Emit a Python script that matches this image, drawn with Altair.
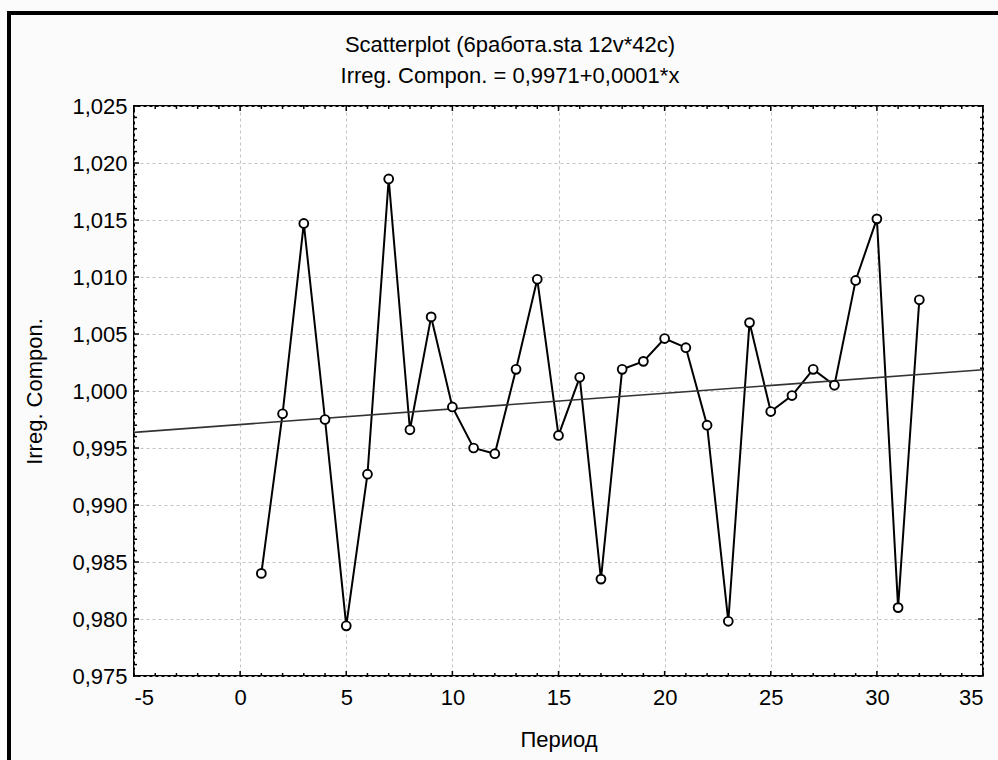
import altair as alt
import numpy as np
import pandas as pd

# Irregular component by period
period = list(range(1, 33))
irreg = [0.9840, 0.9980, 1.0147, 0.9975, 0.9794, 0.9927, 1.0186, 0.9966, 1.0065, 0.9986,
         0.9950, 0.9945, 1.0019, 1.0098, 0.9961, 1.0012, 0.9835, 1.0019, 1.0026, 1.0046,
         1.0038, 0.9970, 0.9798, 1.0060, 0.9982, 0.9996, 1.0019, 1.0005, 1.0097, 1.0151,
         0.9810, 1.0080]

x_major = [-5, 0, 5, 10, 15, 20, 25, 30, 35]
y_major = [0.975, 0.980, 0.985, 0.990, 0.995, 1.000, 1.005, 1.010, 1.015, 1.020, 1.025]
x_minor = list(range(-5, 36))
y_minor = [round(0.975 + i * 0.001, 3) for i in range(51)]

title_lines = ["Scatterplot (6работа.sta 12v*42c)", "Irreg. Compon. = 0,9971+0,0001*x"]

W, H = 849, 570
FONT = "Liberation Sans"
FS = 22

df = pd.DataFrame({"x": period, "y": irreg})

# least-squares line over the full x range
b1, b0 = np.polyfit(period, irreg, 1)
fit = pd.DataFrame({"x": [-5, 35], "y": [b0 + b1 * -5, b0 + b1 * 35]})

xscale = alt.Scale(domain=[-5, 35], nice=False, zero=False)
yscale = alt.Scale(domain=[0.975, 1.025], nice=False, zero=False)

xaxis = alt.Axis(values=x_major, title="Период", grid=True, gridDash=[3, 3],
                 gridColor="#c4c4c4", gridWidth=1, ticks=False, domain=False,
                 labelExpr="datum.value + ''", labelPadding=11, titlePadding=21,
                 labelFont=FONT, titleFont=FONT, labelFontSize=FS, titleFontSize=FS,
                 titleFontWeight="normal", labelColor="black", titleColor="black")
yaxis = alt.Axis(values=y_major, title="Irreg. Compon.", grid=True, gridDash=[3, 3],
                 gridColor="#c4c4c4", gridWidth=1, ticks=False, domain=False,
                 labelExpr="replace(format(datum.value, '.3f'), '.', ',')",
                 labelPadding=7, titlePadding=25,
                 labelFont=FONT, titleFont=FONT, labelFontSize=FS, titleFontSize=FS,
                 titleFontWeight="normal", labelColor="black", titleColor="black")

base = alt.Chart(df)

series_line = base.mark_line(color="black", strokeWidth=2).encode(
    x=alt.X("x:Q", scale=xscale, axis=xaxis),
    y=alt.Y("y:Q", scale=yscale, axis=yaxis),
)
series_pts = base.mark_point(shape="circle", filled=True, fill="white", stroke="black",
                             strokeWidth=1.9, size=78, opacity=1).encode(
    x=alt.X("x:Q", scale=xscale),
    y=alt.Y("y:Q", scale=yscale),
)
fit_line = alt.Chart(fit).mark_line(color="#333333", strokeWidth=1.6).encode(
    x=alt.X("x:Q", scale=xscale),
    y=alt.Y("y:Q", scale=yscale),
)

# inward ticks on all four sides of the frame
xt = pd.DataFrame({"x": x_minor})
xt_major = xt[xt["x"] % 5 == 0]
xt_minor = xt[xt["x"] % 5 != 0]
yt = pd.DataFrame({"y": y_minor, "i": range(len(y_minor))})
yt_major = yt[yt["i"] % 5 == 0]
yt_minor = yt[yt["i"] % 5 != 0]


def xticks(d, n):
    bottom = alt.Chart(d).mark_rule(color="black", strokeWidth=1.5).encode(
        x=alt.X("x:Q", scale=xscale), y=alt.value(H), y2=alt.value(H - n))
    top = alt.Chart(d).mark_rule(color="black", strokeWidth=1.5).encode(
        x=alt.X("x:Q", scale=xscale), y=alt.value(0), y2=alt.value(n))
    return [bottom, top]


def yticks(d, n):
    left = alt.Chart(d).mark_rule(color="black", strokeWidth=1.5).encode(
        y=alt.Y("y:Q", scale=yscale), x=alt.value(0), x2=alt.value(n))
    right = alt.Chart(d).mark_rule(color="black", strokeWidth=1.5).encode(
        y=alt.Y("y:Q", scale=yscale), x=alt.value(W), x2=alt.value(W - n))
    return [left, right]


tick_layers = xticks(xt_major, 5) + xticks(xt_minor, 3) + yticks(yt_major, 5) + yticks(yt_minor, 3)

# two-line heading above the plot
one = alt.Data(values=[{"k": 0}])
heading = [
    alt.Chart(one).mark_text(text=t, font=FONT, fontSize=FS, color="black",
                             align="center", baseline="middle").encode(
        x=alt.value(376), y=alt.value(dy))
    for t, dy in zip(title_lines, [-61, -30])
]

# heavy outer frame around the whole figure
frame_left = alt.Chart(one).mark_rule(color="black", strokeWidth=4).encode(
    x=alt.value(-125), y=alt.value(-95), y2=alt.value(H + 200))
frame_top = alt.Chart(one).mark_rule(color="black", strokeWidth=4).encode(
    x=alt.value(-127), x2=alt.value(W + 200), y=alt.value(-93))

chart = alt.layer(
    series_line, fit_line, series_pts, *tick_layers, *heading, frame_left, frame_top
).properties(
    width=W, height=H,
    autosize=alt.AutoSizeParams(type="none"),
    padding={"left": 134, "top": 106, "right": 15, "bottom": 84},
).configure(
    background="#fbfbfb",
).configure_view(
    fill="white", stroke="black", strokeWidth=2,
)

chart.save("out.html", embed_options={"renderer": "svg", "actions": False})
